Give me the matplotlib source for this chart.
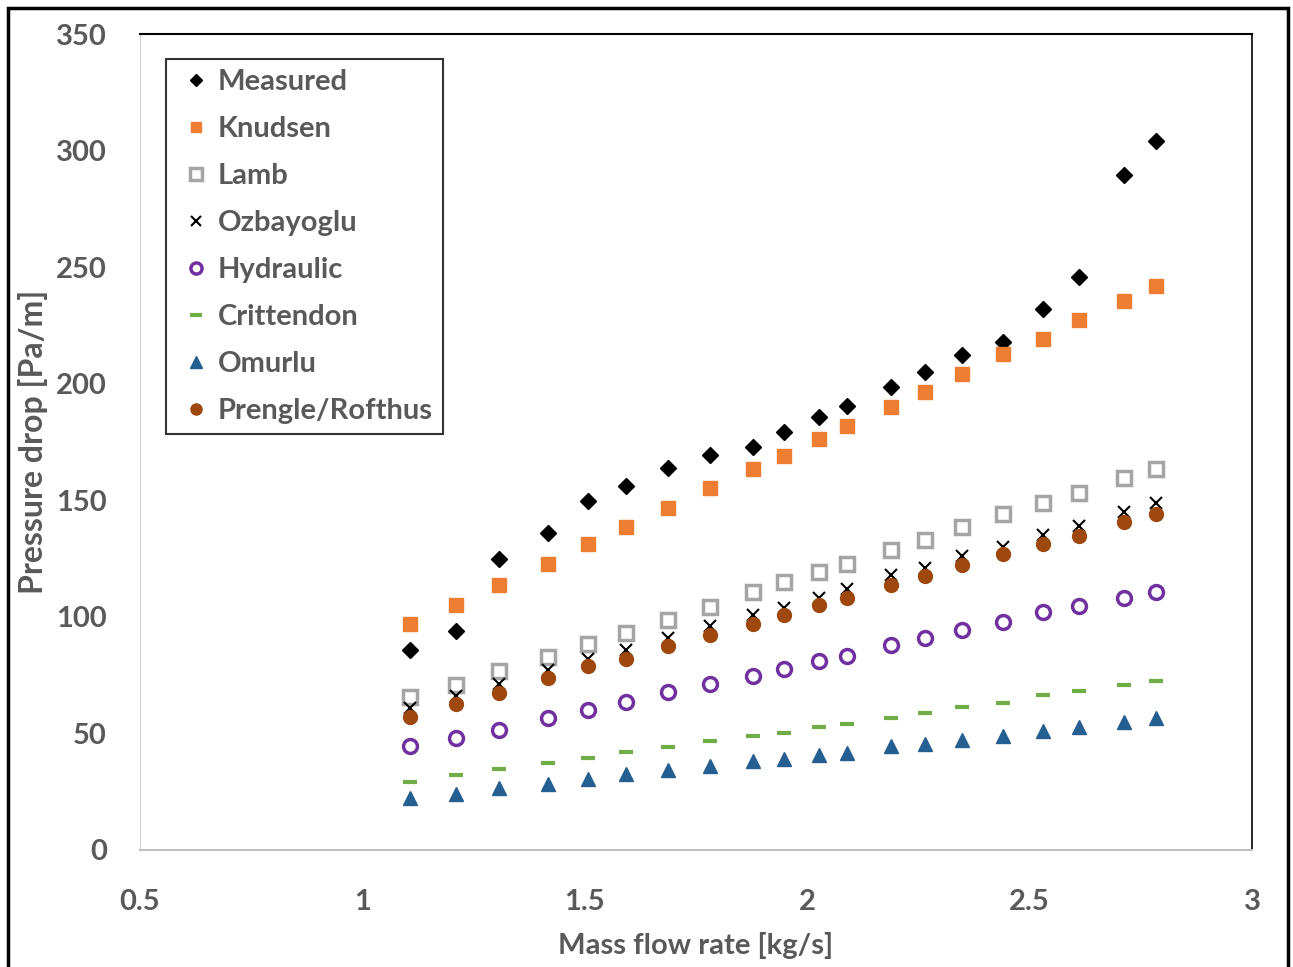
#!/usr/bin/env python

# Pressure drop vs mass flow rate: measured values and model predictions

import matplotlib
matplotlib.use("Agg")
import matplotlib.pyplot as plt
from matplotlib.patches import Rectangle

# Mass flow rate [kg/s]
flow = [1.107, 1.210, 1.307, 1.417, 1.507, 1.593, 1.687, 1.781, 1.878, 1.948,
        2.027, 2.089, 2.188, 2.265, 2.348, 2.440, 2.530, 2.611, 2.712, 2.784]

# Pressure drop [Pa/m]
measured = [85.8, 93.9, 124.8, 136.0, 149.7, 156.1, 163.9, 169.5, 172.9, 179.3,
            185.7, 190.4, 198.6, 205.0, 212.3, 217.9, 232.0, 245.8, 289.5, 304.1]
knudsen = [96.9, 105.1, 113.7, 122.7, 131.3, 138.5, 146.7, 155.3, 163.4, 169.0,
           176.3, 181.9, 190.0, 196.4, 204.2, 212.7, 219.2, 227.3, 235.5, 241.9]
lamb = [65.6, 70.8, 76.8, 82.8, 88.4, 93.1, 98.7, 104.2, 110.7, 115.0,
        119.2, 122.7, 128.7, 133.0, 138.5, 144.1, 148.8, 153.1, 159.6, 163.4]
ozbayoglu = [61, 66, 71, 77, 82, 86, 91, 96, 101, 104,
             108, 112, 118, 121, 126, 130, 135, 139, 145, 149]
hydraulic = [44.6, 48.0, 51.5, 56.6, 60.0, 63.5, 67.8, 71.2, 74.6, 77.6,
             81.1, 83.2, 87.9, 90.9, 94.4, 97.8, 102.1, 104.7, 108.1, 110.7]
crittendon = [29.2, 32.2, 34.7, 37.3, 39.5, 42.0, 44.2, 46.8, 48.9, 50.2,
              52.8, 54.0, 56.6, 58.8, 61.3, 63.1, 66.5, 68.2, 70.8, 72.5]
omurlu = [22.3, 24.0, 26.6, 28.3, 30.5, 32.6, 34.3, 36.0, 38.2, 39.0,
          40.7, 41.6, 44.6, 45.5, 47.2, 48.9, 51.0, 52.8, 54.9, 56.6]
prengle = [57.0, 62.6, 67.3, 73.8, 78.9, 81.9, 87.5, 92.2, 96.9, 100.8,
           105.1, 108.1, 113.7, 117.5, 122.2, 127.0, 131.3, 134.7, 140.7, 144.1]

xticks = [0.5, 1, 1.5, 2, 2.5, 3]
xtick_labels = ["0.5", "1", "1.5", "2", "2.5", "3"]
yticks = [0, 50, 100, 150, 200, 250, 300, 350]

plt.rcParams["font.family"] = ["Lato", "DejaVu Sans"]
plt.rcParams["font.weight"] = "bold"
grey_text = "#595959"

fig = plt.figure(figsize=(12.93, 9.67), dpi=100, facecolor="white")
ax = fig.add_axes([0.1083, 0.121, 0.86, 0.8438])

# Outer frame round the whole picture
fig.patches.append(Rectangle((8 / 1293, -0.05), 1280 / 1293, 1.05 - 8 / 967,
                             transform=fig.transFigure, fill=False,
                             edgecolor="black", linewidth=2.5))

ax.plot(flow, measured, linestyle="none", marker="D", markersize=8,
        color="black", label="Measured")
ax.plot(flow, knudsen, linestyle="none", marker="s", markersize=9.5,
        color="#ed7d31", label="Knudsen")
ax.plot(flow, lamb, linestyle="none", marker="s", markersize=10,
        markerfacecolor="white", markeredgecolor="#a5a5a5",
        markeredgewidth=2.5, label="Lamb")
ax.plot(flow, ozbayoglu, linestyle="none", marker="x", markersize=9,
        markeredgewidth=1.5, color="black", label="Ozbayoglu")
ax.plot(flow, hydraulic, linestyle="none", marker="o", markersize=10,
        markerfacecolor="white", markeredgecolor="#7030a0",
        markeredgewidth=2.5, label="Hydraulic")
ax.plot(flow, crittendon, linestyle="none", marker="_", markersize=10,
        markeredgewidth=3, color="#70ad47", label="Crittendon")
ax.plot(flow, omurlu, linestyle="none", marker="^", markersize=10,
        color="#255e91", label="Omurlu")
ax.plot(flow, prengle, linestyle="none", marker="o", markersize=10,
        color="#9e480e", label="Prengle/Rofthus")

ax.set_xlim(0.5, 3)
ax.set_ylim(0, 350)
ax.set_xticks(xticks)
ax.set_xticklabels(xtick_labels, fontweight="bold")
ax.set_yticks(yticks)
ax.set_yticklabels([str(v) for v in yticks], fontweight="bold")
ax.tick_params(length=0, labelsize=21, labelcolor=grey_text)
ax.tick_params(axis="y", pad=24)
ax.tick_params(axis="x", pad=28)

ax.spines["top"].set_color("black")
ax.spines["right"].set_color("black")
ax.spines["top"].set_linewidth(1.5)
ax.spines["right"].set_linewidth(1.2)
ax.spines["left"].set_color("#d0d0d0")
ax.spines["bottom"].set_color("#c0c0c0")
ax.spines["bottom"].set_linewidth(1.5)

ax.set_xlabel("Mass flow rate [kg/s]", fontsize=21, fontweight="bold",
              color=grey_text, labelpad=12)
ax.set_ylabel("Pressure drop [Pa/m]", fontsize=23, fontweight="bold",
              color=grey_text, labelpad=6)

leg = ax.legend(loc="upper left", bbox_to_anchor=(0.023, 0.97),
                prop={"size": 21, "weight": "bold"},
                frameon=True, fancybox=False, edgecolor="black",
                handlelength=1.4, handletextpad=0.05, borderpad=0.35,
                labelspacing=0.72, markerscale=0.8, borderaxespad=0)
leg.get_frame().set_linewidth(1.5)
for text in leg.get_texts():
    text.set_color(grey_text)

fig.savefig("out.png", dpi=100, facecolor="white")
